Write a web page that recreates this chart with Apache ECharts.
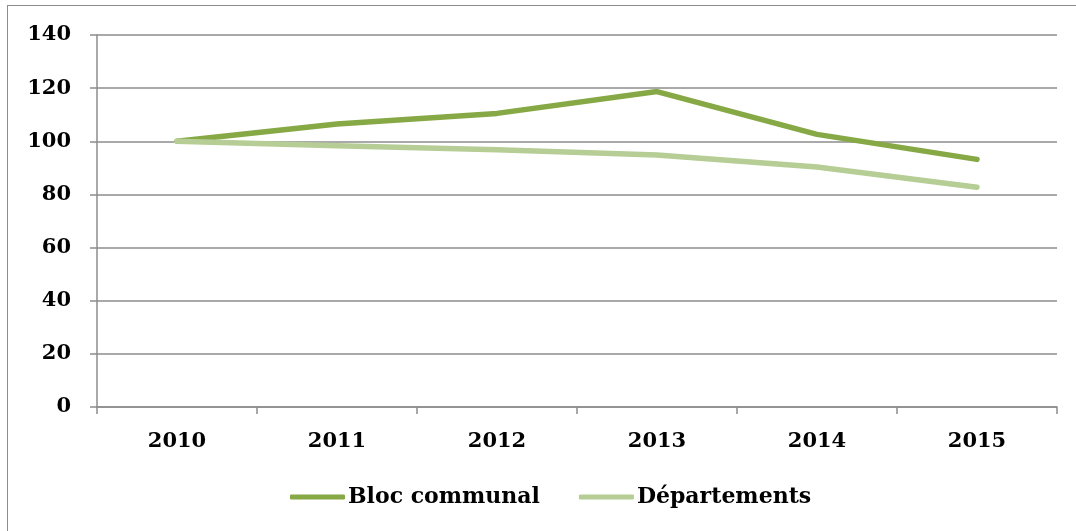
<!DOCTYPE html>
<html>
<head>
<meta charset="utf-8">
<script src="https://cdn.jsdelivr.net/npm/echarts@6/dist/echarts.min.js"></script>
<style>
html,body{margin:0;padding:0;background:#fff;overflow:hidden;}
#cadre{position:absolute;left:7px;top:5px;width:1200px;height:700px;border:1px solid #8c8c8c;}
#main{position:absolute;left:0;top:0;width:1076px;height:531px;}
</style>
</head>
<body>
<div id="cadre"></div>
<div id="main"></div>
<script>
// données
var annees = ['2010', '2011', '2012', '2013', '2014', '2015'];
var blocCommunal = [100, 106.5, 110.5, 118.7, 102.6, 93.2];
var departements = [100, 98.3, 96.8, 94.8, 90.3, 82.7];
var nomsSeries = ['Bloc communal', 'Départements'];

var police = 'DejaVu Serif';
var chart = echarts.init(document.getElementById('main'));
var option = {
    animation: false,
    grid: {left: 97, right: 19, top: 35, bottom: 124},
    legend: {
        bottom: 18,
        left: 285,
        itemWidth: 55,
        itemHeight: 5,
        itemGap: 39,
        icon: 'roundRect',
        textStyle: {fontFamily: police, fontWeight: 'bold', fontSize: 22, color: '#000', padding: [0, 0, 0, -2]},
        data: nomsSeries
    },
    xAxis: {
        type: 'category',
        data: annees,
        boundaryGap: true,
        axisLine: {lineStyle: {color: '#8c8c8c', width: 1.5}},
        axisTick: {show: true, length: 7, lineStyle: {color: '#8c8c8c', width: 1.5}},
        axisLabel: {fontFamily: police, fontWeight: 'bold', fontSize: 21, color: '#000', margin: 24}
    },
    yAxis: {
        type: 'value',
        min: 0,
        max: 140,
        interval: 20,
        axisLine: {show: true, lineStyle: {color: '#8c8c8c', width: 1.5}},
        axisTick: {show: true, length: 7, lineStyle: {color: '#8c8c8c', width: 1.5}},
        splitLine: {lineStyle: {color: '#8c8c8c', width: 1.5}},
        axisLabel: {fontFamily: police, fontWeight: 'bold', fontSize: 21, color: '#000', margin: 26}
    },
    series: [
        {
            name: nomsSeries[0],
            type: 'line',
            data: blocCommunal,
            symbol: 'none',
            color: '#86a845',
            lineStyle: {width: 5.5, cap: 'round', join: 'round'}
        },
        {
            name: nomsSeries[1],
            type: 'line',
            data: departements,
            symbol: 'none',
            color: '#b6cd95',
            lineStyle: {width: 5.5, cap: 'round', join: 'round'}
        }
    ]
};
chart.setOption(option);
</script>
</body>
</html>
